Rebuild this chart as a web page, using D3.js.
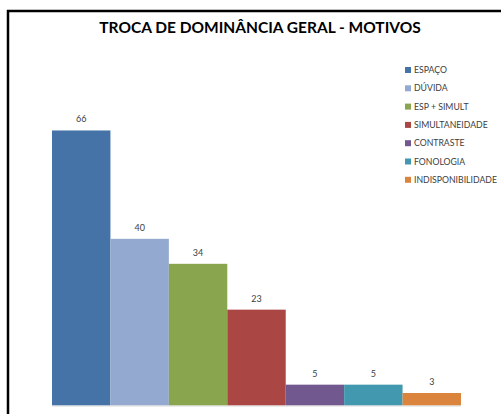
<!DOCTYPE html>
<html>
<head>
<meta charset="utf-8">
<script src="https://cdn.jsdelivr.net/npm/d3@7"></script>
<style>
    body { margin: 0; background: #fff; }
    text { font-family: Lato, "Open Sans", sans-serif; }
</style>
</head>
<body>
<svg id="chart" width="501" height="414"></svg>
<script>
const width = 501;
const height = 414;

const categories = ["ESPAÇO", "DÚVIDA", "ESP + SIMULT", "SIMULTANEIDADE", "CONTRASTE", "FONOLOGIA", "INDISPONIBILIDADE"];
const values = [66, 40, 34, 23, 5, 5, 3];
const colors = ["#4572A7", "#93A9CF", "#89A54E", "#AA4643", "#71588F", "#4198AF", "#DB843D"];

const svg = d3.select("#chart");

svg.append("rect")
    .attr("width", width)
    .attr("height", height)
    .attr("fill", "#fff");

// frame (only left and top visible)
svg.append("path")
    .attr("d", `M8,${height} V11 H${width}`)
    .attr("fill", "none")
    .attr("stroke", "#000")
    .attr("stroke-width", 2.5);

// Title
svg.append("text")
    .attr("x", 260)
    .attr("y", 33)
    .attr("text-anchor", "middle")
    .attr("font-size", 15.5)
    .attr("font-weight", "bold")
    .attr("fill", "#000")
    .text("TROCA DE DOMINÂNCIA GERAL - MOTIVOS");

const x = d3.scaleBand()
    .domain(categories)
    .range([52, 461])
    .paddingInner(0);

const y = d3.scaleLinear()
    .domain([0, 70])
    .range([405.5, 113.8]);

svg.selectAll(".bar")
    .data(values)
    .enter()
    .append("rect")
    .attr("class", "bar")
    .attr("x", (d, i) => x(categories[i]))
    .attr("y", d => y(d))
    .attr("width", x.bandwidth())
    .attr("height", d => y(0) - y(d))
    .attr("fill", (d, i) => colors[i]);

// value labels
svg.selectAll(".label")
    .data(values)
    .enter()
    .append("text")
    .attr("class", "label")
    .attr("x", (d, i) => x(categories[i]) + x.bandwidth() / 2)
    .attr("y", d => y(d) - 8)
    .attr("text-anchor", "middle")
    .attr("font-size", 9)
    .attr("fill", "#404040")
    .text(d => d);

// baseline
svg.append("line")
    .attr("x1", 52)
    .attr("x2", 461)
    .attr("y1", y(0) + 0.5)
    .attr("y2", y(0) + 0.5)
    .attr("stroke", "#d9d9d9")
    .attr("stroke-width", 1);

// Legend
const legend = svg.append("g")
    .attr("transform", "translate(405,70)");

const item = legend.selectAll("g")
    .data(categories)
    .enter()
    .append("g")
    .attr("transform", (d, i) => `translate(0,${i * 18.3})`);

item.append("rect")
    .attr("x", 0)
    .attr("y", -3)
    .attr("width", 6)
    .attr("height", 6)
    .attr("fill", (d, i) => colors[i]);

item.append("text")
    .attr("x", 9)
    .attr("y", 3)
    .attr("font-size", 8.7)
    .attr("fill", "#404040")
    .text(d => d);
</script>
</body>
</html>
